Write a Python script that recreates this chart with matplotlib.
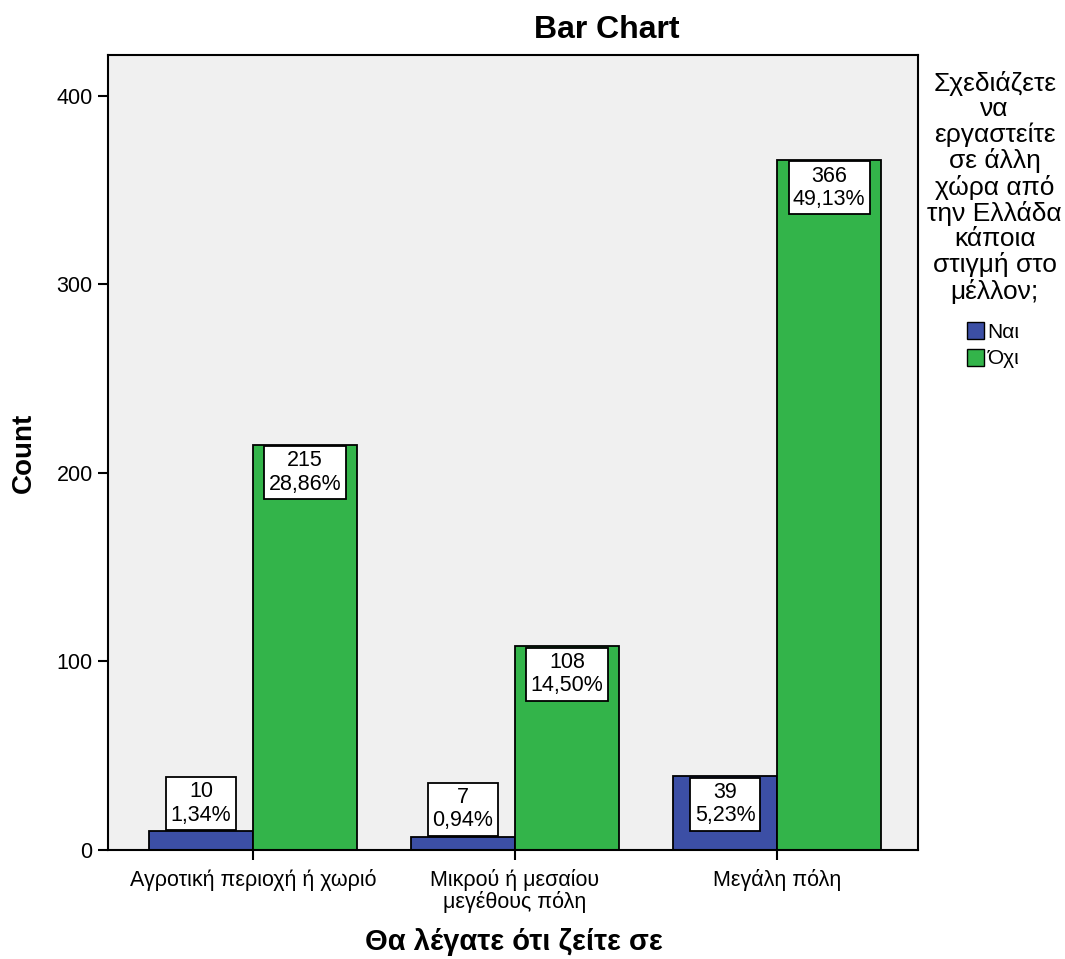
import matplotlib.pyplot as plt
from matplotlib.patches import Patch
import numpy as np

plt.rcParams['font.family'] = ['Liberation Sans', 'DejaVu Sans']

# Data
categories = ["Αγροτική περιοχή ή χωριό", "Μικρού ή μεσαίου\nμεγέθους πόλη", "Μεγάλη πόλη"]
groups = ["Ναι", "Όχι"]
nai_counts = [10, 7, 39]
oxi_counts = [215, 108, 366]
nai_pct = ["1,34%", "0,94%", "5,23%"]
oxi_pct = ["28,86%", "14,50%", "49,13%"]
yticks = [0, 100, 200, 300, 400]

colors = ["#3c4fa5", "#33b44a"]
legend_title = ("Σχεδιάζετε\nνα\nεργαστείτε\nσε άλλη\nχώρα από\nτην Ελλάδα\n"
                "κάποια\nστιγμή στο\nμέλλον;")

fig = plt.figure(figsize=(10.65, 9.59), dpi=100)
ax = fig.add_axes([0.1014, 0.1137, 0.7606, 0.8289])
ax.set_facecolor("#f0f0f0")

x = np.arange(len(categories))
w = 0.397
series = [(nai_counts, nai_pct, -w / 2, colors[0]), (oxi_counts, oxi_pct, w / 2, colors[1])]

for counts, pcts, off, col in series:
    ax.bar(x + off, counts, width=w, color=col, edgecolor="black", linewidth=1.3, zorder=2)
    for xi, c, p in zip(x, counts, pcts):
        # label box sits inside the top of the bar when it fits, otherwise on top of it
        if c >= 32:
            dy, va = -4, "top"
        else:
            dy, va = 4, "bottom"
        ax.annotate(f"{c}\n{p}", (xi + off, c), xytext=(0, dy), textcoords="offset points",
                    ha="center", va=va, fontsize=15.5, linespacing=1.15, zorder=3,
                    bbox=dict(boxstyle="square,pad=0.2", fc="white", ec="black", lw=1.3))

ax.set_xlim(-0.553, 2.538)
ax.set_ylim(0, 421.7)
ax.set_yticks(yticks)
ax.set_xticks(x)
ax.set_xticklabels(categories, fontsize=15.5, linespacing=0.95)
ax.tick_params(axis="y", labelsize=15.5, length=7, width=1.5, pad=4)
ax.tick_params(axis="x", length=7, width=1.5, pad=7)
for s in ax.spines.values():
    s.set_linewidth(1.5)

# title is centred over plot + legend area
fig.text(0.570, 0.9604, "Bar Chart", ha="center", va="baseline", fontsize=23, fontweight="bold")
ax.set_ylabel("Count", fontsize=20, fontweight="bold", labelpad=14)
fig.text(0.4826, 0.0094, "Θα λέγατε ότι ζείτε σε", ha="center", va="baseline",
         fontsize=21, fontweight="bold")

fig.text(0.934, 0.926, legend_title, ha="center", va="top", fontsize=19, linespacing=1.065)
handles = [Patch(facecolor=c, edgecolor="black", label=g) for c, g in zip(colors, groups)]
fig.legend(handles=handles, loc="upper left", bbox_to_anchor=(0.898, 0.675), frameon=False,
           fontsize=15, handlelength=0.85, handleheight=0.85, handletextpad=0.15,
           labelspacing=0.35, borderpad=0)

fig.savefig("out.png", dpi=100)
